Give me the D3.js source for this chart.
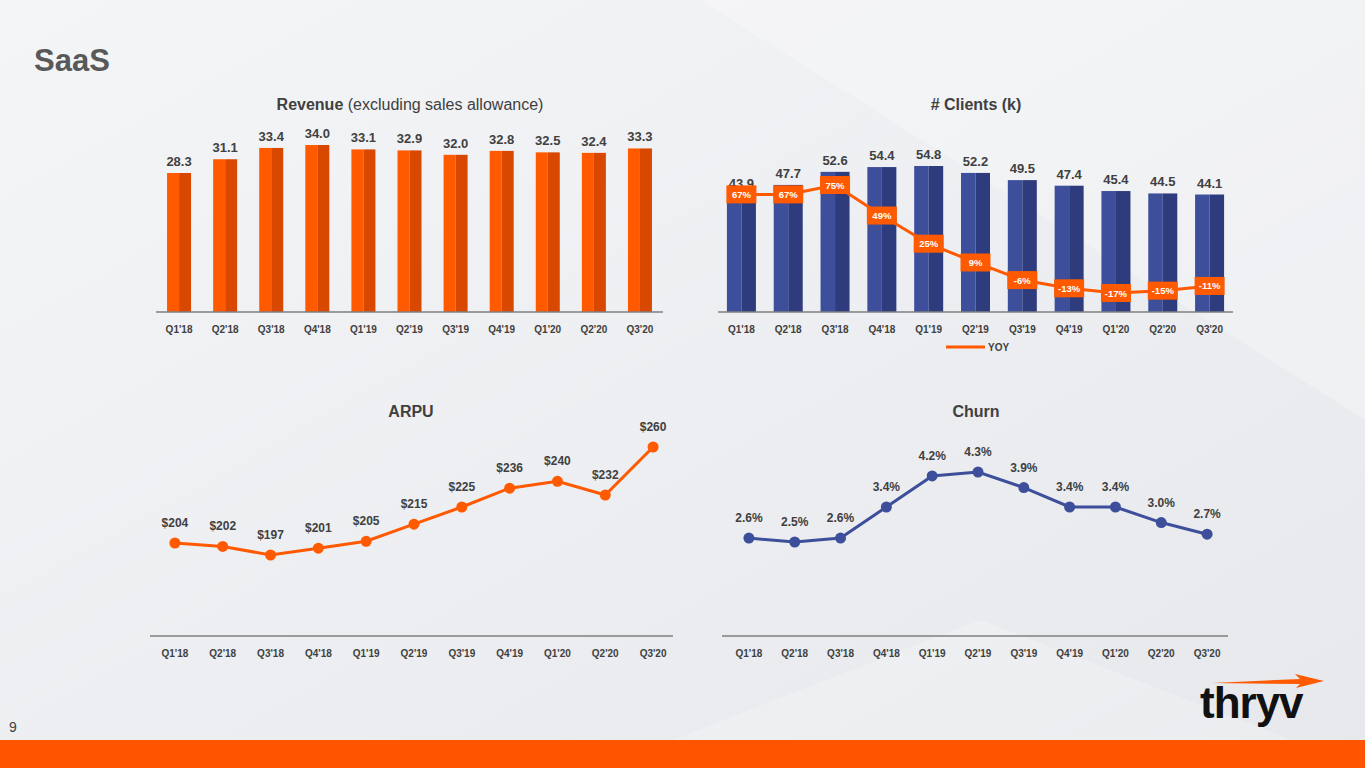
<!DOCTYPE html>
<html><head><meta charset="utf-8">
<script src="https://cdn.jsdelivr.net/npm/d3@7/dist/d3.min.js"></script>
<style>
body{margin:0;font-family:Arial,"Liberation Sans",sans-serif;}
svg text{font-family:Arial,"Liberation Sans",sans-serif;}
</style></head>
<body><svg id="c" width="1365" height="768"></svg>
<script>
var quarters = ["Q1'18","Q2'18","Q3'18","Q4'18","Q1'19","Q2'19","Q3'19","Q4'19","Q1'20","Q2'20","Q3'20"];
var revenue = [28.3,31.1,33.4,34.0,33.1,32.9,32.0,32.8,32.5,32.4,33.3];
var clients = [43.9,47.7,52.6,54.4,54.8,52.2,49.5,47.4,45.4,44.5,44.1];
var yoy = [67,67,75,49,25,9,-6,-13,-17,-15,-11];
var arpu = [204,202,197,201,205,215,225,236,240,232,260];
var churn = [2.6,2.5,2.6,3.4,4.2,4.3,3.9,3.4,3.4,3.0,2.7];

var svg = d3.select('#c');
var defs = svg.append('defs');
var g = defs.append('linearGradient').attr('id','bg').attr('x1',0).attr('y1',0).attr('x2',1).attr('y2',1);
g.append('stop').attr('offset',0).attr('stop-color','#f4f5f7');
g.append('stop').attr('offset',1).attr('stop-color','#e6e8ec');
svg.append('rect').attr('width',1365).attr('height',768).attr('fill','url(#bg)');
svg.append('path').attr('d','M700,0 L1365,0 L1365,420 Z').attr('fill','#ffffff').attr('opacity',0.25);
svg.append('path').attr('d','M600,768 L980,620 L1365,768 Z').attr('fill','#ffffff').attr('opacity',0.2);

var orange = '#ff5a00', orangeDark = '#d94800', blue = '#3d4f9a', blueDark = '#2e3c7e', grey = '#404040';

svg.append('text').attr('x',34).attr('y',71).attr('font-size',31).attr('font-weight','bold').attr('fill','#595959').text('SaaS');
var t = svg.append('text').attr('x',410).attr('y',110).attr('text-anchor','middle').attr('font-size',16).attr('fill',grey);
t.append('tspan').attr('font-weight','bold').text('Revenue');
t.append('tspan').text(' (excluding sales allowance)');
[['# Clients (k)',976,110],['ARPU',411,417],['Churn',976,417]].forEach(function(d){
  svg.append('text').attr('x',d[1]).attr('y',d[2]).attr('text-anchor','middle').attr('font-size',16).attr('font-weight','bold').attr('fill',grey).text(d[0]);
});

function xAxis(x, y, x0, x1){
  svg.append('line').attr('x1',x0).attr('x2',x1).attr('y1',y).attr('y2',y).attr('stroke','#7f7f7f').attr('stroke-width',1.5);
  svg.selectAll(null).data(quarters).enter().append('text')
    .attr('x',function(d){return x(d)+x.bandwidth()/2;}).attr('y',y+21)
    .attr('text-anchor','middle').attr('font-size',10).attr('font-weight','bold').attr('fill',grey).text(function(d){return d;});
}

function bars(x, y, vals, c1, c2, fmt, bw){
  var gg = svg.append('g');
  vals.forEach(function(v,i){
    var cx = x(quarters[i])+x.bandwidth()/2;
    gg.append('rect').attr('x',cx-bw/2).attr('y',y(v)).attr('width',bw/2).attr('height',y(0)-y(v)).attr('fill',c1);
    gg.append('rect').attr('x',cx).attr('y',y(v)).attr('width',bw/2).attr('height',y(0)-y(v)).attr('fill',c2);
    gg.append('text').attr('x',cx).attr('y',y(v)-7).attr('text-anchor','middle').attr('font-size',13).attr('font-weight','bold').attr('fill',grey).text(fmt(v));
  });
}

// Revenue
var xr = d3.scaleBand().domain(quarters).range([156,663]);
var yr = d3.scaleLinear().domain([0,34]).range([312,145]);
bars(xr, yr, revenue, orange, orangeDark, d3.format('.1f'), 24);
xAxis(xr, 312, 156, 663);

// Clients
var xc = d3.scaleBand().domain(quarters).range([718,1233]);
var yc = d3.scaleLinear().domain([0,54.8]).range([312,166]);
bars(xc, yc, clients, blue, blueDark, d3.format('.1f'), 29);
xAxis(xc, 312, 718, 1233);
var yy = d3.scaleLinear().domain([-17,75]).range([293,185]);
var cxf = function(d,i){return xc(quarters[i])+xc.bandwidth()/2;};
svg.append('path').datum(yoy).attr('fill','none').attr('stroke',orange).attr('stroke-width',3)
  .attr('d',d3.line().x(cxf).y(function(d){return yy(d);}));
var lb = svg.selectAll(null).data(yoy).enter().append('g').attr('transform',function(d,i){return 'translate('+cxf(d,i)+','+yy(d)+')';});
lb.append('rect').attr('x',-15).attr('y',-9).attr('width',30).attr('height',18).attr('fill',orange);
lb.append('text').attr('y',3.5).attr('text-anchor','middle').attr('font-size',9.5).attr('font-weight','bold').attr('fill','#fff').text(function(d){return d+'%';});
svg.append('line').attr('x1',946).attr('x2',985).attr('y1',347).attr('y2',347).attr('stroke',orange).attr('stroke-width',3);
svg.append('text').attr('x',988).attr('y',351).attr('font-size',10).attr('font-weight','bold').attr('fill',grey).text('YOY');

// line charts
function lineChart(x, y, vals, color, fmt, x0, x1){
  var px = function(d,i){return x(quarters[i])+x.bandwidth()/2;};
  svg.append('path').datum(vals).attr('fill','none').attr('stroke',color).attr('stroke-width',3)
    .attr('d',d3.line().x(px).y(function(d){return y(d);}));
  svg.selectAll(null).data(vals).enter().append('circle').attr('cx',px).attr('cy',function(d){return y(d);}).attr('r',5.5).attr('fill',color);
  svg.selectAll(null).data(vals).enter().append('text').attr('x',px).attr('y',function(d){return y(d)-16;})
    .attr('text-anchor','middle').attr('font-size',12).attr('font-weight','bold').attr('fill',grey).text(fmt);
  xAxis(x, 636, x0, x1);
}
var xa = d3.scaleBand().domain(quarters).range([151,677]);
var ya = d3.scaleLinear().domain([197,260]).range([555,447]);
lineChart(xa, ya, arpu, orange, function(d){return '$'+d;}, 150, 673);
var xh = d3.scaleBand().domain(quarters).range([726,1230]);
var yh = d3.scaleLinear().domain([2.5,4.3]).range([542,472]);
lineChart(xh, yh, churn, blue, function(d){return d.toFixed(1)+'%';}, 722, 1228);

// footer
svg.append('text').attr('x',9).attr('y',732).attr('font-size',14).attr('fill',grey).text('9');
svg.append('rect').attr('x',0).attr('y',740).attr('width',1365).attr('height',28).attr('fill','#ff5500');
svg.append('text').attr('x',1200).attr('y',718).attr('font-size',44).attr('font-weight','bold').attr('letter-spacing',-1).attr('fill','#111').text('thryv');
svg.append('path').attr('d','M1212,683 L1300,679 L1295,674 L1324,681 L1296,688 L1300,684 Z').attr('fill',orange);
</script></body></html>
